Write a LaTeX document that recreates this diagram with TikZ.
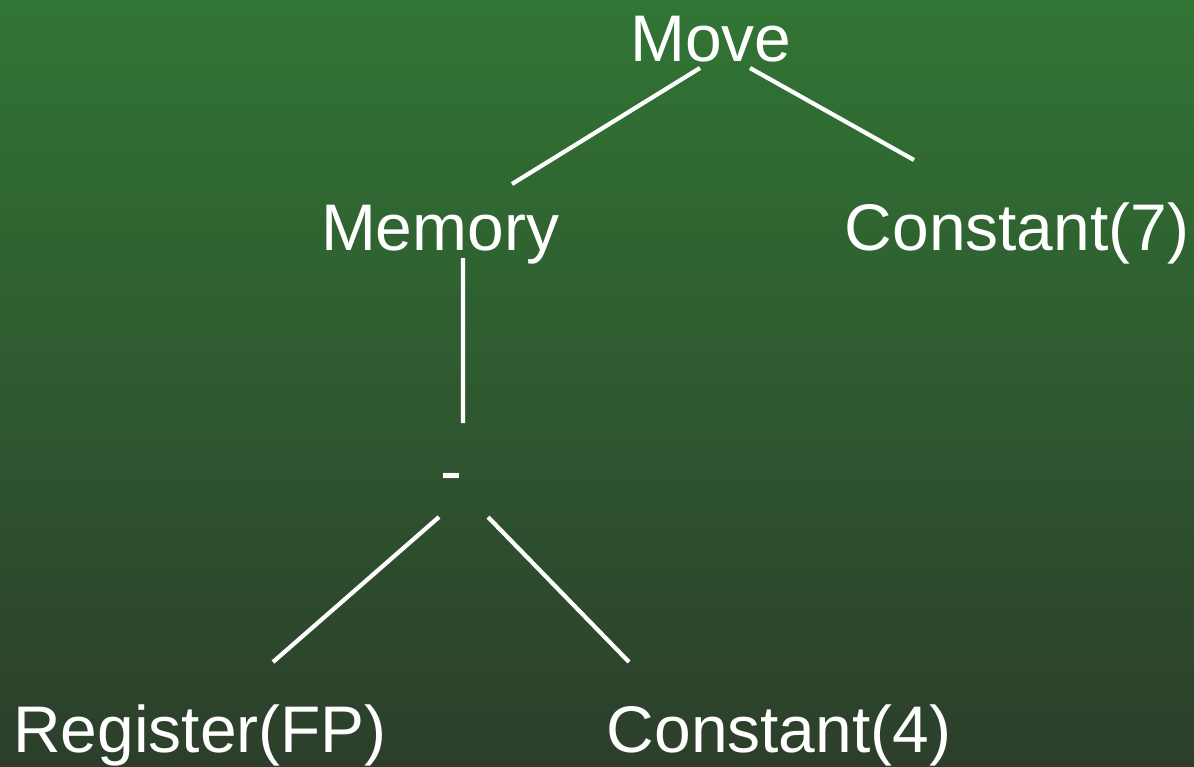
\documentclass[tikz,border=0pt]{standalone}
\usepackage{fontspec}
\setmainfont{Liberation Sans}
\usepackage{tikz}
\usetikzlibrary{arrows.meta,positioning}
\definecolor{TreeTop}{RGB}{49,117,52}
\definecolor{TreeBottom}{RGB}{44,62,43}
\begin{document}
\begin{tikzpicture}[>=Latex,
    label/.style={text=white,inner sep=0pt,anchor=base,
      font=\fontsize{37.5}{45}\selectfont},
    edge/.style={draw=white,line width=2.4pt}]
      \shade[top color=TreeTop,bottom color=TreeBottom] (0,0) rectangle (23.88,-15.32);
      \useasboundingbox (0,0) rectangle (23.88,-15.32);
      \node[label] (move) at (14.22,-1.22) {Move};
      \node[label] (memory) at (8.80,-5.00) {Memory};
      \node[label] (const7) at (20.34,-5.00) {Constant(7)};
      \node[label] (minus) at (9.02,-9.86) {-};
      \node[label] (register) at (4.00,-15.04) {Register(FP)};
      \node[label] (const4) at (15.58,-15.04) {Constant(4)};
      \draw[edge] ([shift={(-0.22,-0.14)}]move.base) -- ([shift={(1.44,1.32)}]memory.base);
      \draw[edge] ([shift={(0.78,-0.14)}]move.base) -- ([shift={(-2.06,1.80)}]const7.base);
      \draw[edge] ([shift={(0.46,-0.16)}]memory.base) -- ([shift={(0.24,1.40)}]minus.base);
      \draw[edge] ([shift={(-0.24,-0.48)}]minus.base) -- ([shift={(1.46,1.80)}]register.base);
      \draw[edge] ([shift={(0.74,-0.48)}]minus.base) -- ([shift={(-3.00,1.80)}]const4.base);
    \end{tikzpicture}
\end{document}
